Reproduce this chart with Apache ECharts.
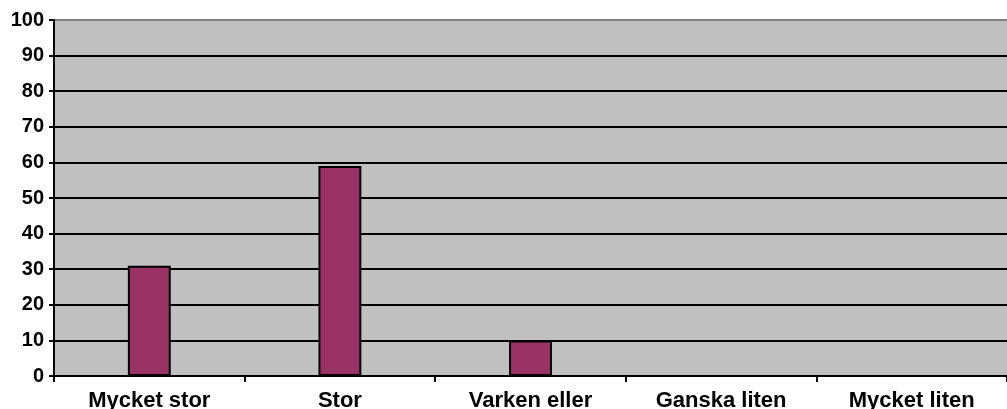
<!DOCTYPE html>
<html>
<head>
<meta charset="utf-8">
<script src="https://cdn.jsdelivr.net/npm/echarts@6/dist/echarts.min.js"></script>
<style>
  html, body { margin: 0; padding: 0; background: #ffffff; }
  #chart { width: 1007px; height: 409px; }
</style>
</head>
<body>
<div id="chart"></div>
<script>
const categories = ['Mycket stor', 'Stor', 'Varken eller', 'Ganska liten', 'Mycket liten']
const values = [31, 59, 10, 0, 0]
const yTicks = [0, 10, 20, 30, 40, 50, 60, 70, 80, 90, 100]

const chart = echarts.init(document.getElementById('chart'))

// grid lines: black, top one grey like the plot border
const gridColors = yTicks.map((t, i) => i === yTicks.length - 1 ? '#808080' : '#000000')

const option = {
  animation: false,
  backgroundColor: '#ffffff',
  grid: {
    left: 54,
    right: 0,
    top: 20,
    bottom: 33,
    containLabel: false,
    outerBoundsMode: 'none',
    show: true,
    backgroundColor: '#c0c0c0',
    borderWidth: 0
  },
  xAxis: {
    type: 'category',
    data: categories,
    axisLine: { lineStyle: { color: '#000000', width: 2 } },
    axisTick: { show: true, alignWithLabel: false, length: 6, lineStyle: { color: '#000000', width: 2 } },
    axisLabel: {
      color: '#000000',
      fontFamily: 'Liberation Sans, Arial, sans-serif',
      fontWeight: 'bold',
      fontSize: 22,
      margin: 14,
      interval: 0
    },
    splitLine: { show: false }
  },
  yAxis: {
    type: 'value',
    min: yTicks[0],
    max: yTicks[yTicks.length - 1],
    interval: 10,
    axisLine: { show: true, lineStyle: { color: '#000000', width: 2 } },
    axisTick: { show: true, length: 5, lineStyle: { color: '#000000', width: 2 } },
    axisLabel: {
      color: '#000000',
      fontFamily: 'Liberation Sans, Arial, sans-serif',
      fontWeight: 'bold',
      fontSize: 20,
      margin: 10
    },
    splitLine: { show: true, lineStyle: { color: gridColors, width: 2 } }
  },
  series: [{
    type: 'bar',
    data: values,
    barWidth: '22.5%',
    itemStyle: {
      color: '#993366',
      borderColor: '#000000',
      borderWidth: 2
    }
  }]
}

chart.setOption(option)
</script>
</body>
</html>
